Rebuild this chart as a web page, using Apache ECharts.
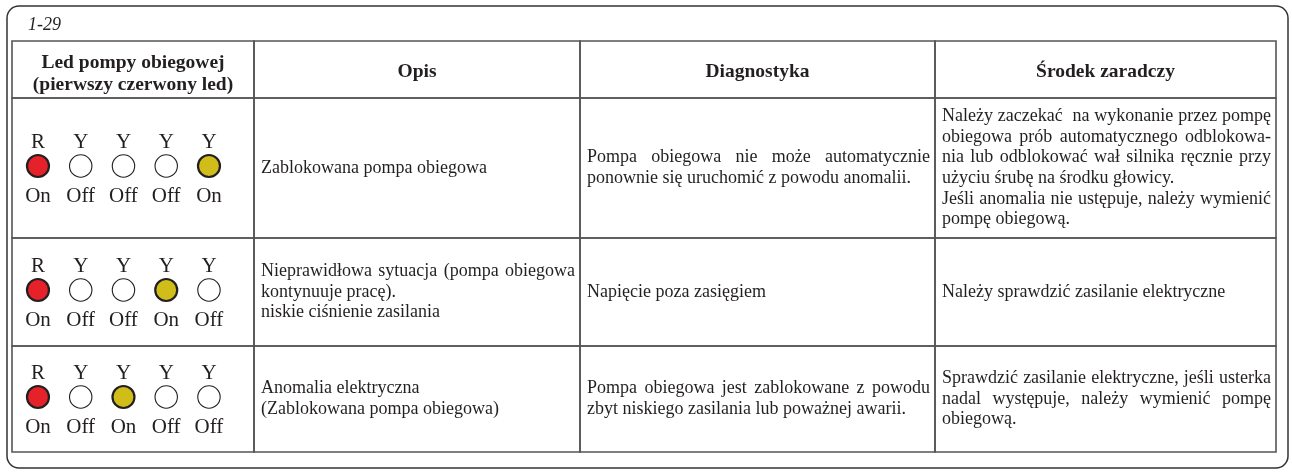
<!DOCTYPE html>
<html><head><meta charset="utf-8">
<script src="https://cdn.jsdelivr.net/npm/echarts@6/dist/echarts.min.js"></script>
<style>html,body{margin:0;padding:0;background:#fff}#c{width:1292px;height:473px}</style>
</head><body><div id="c"></div>
<script>
// ---------- data ----------
const tableTitle = '1-29';
const headers = [['Led pompy obiegowej', '(pierwszy czerwony led)'], ['Opis'], ['Diagnostyka'], ['Środek zaradczy']];
const ledLetters = ['R', 'Y', 'Y', 'Y', 'Y'];
const ledStates = [
  ['On', 'Off', 'Off', 'Off', 'On'],
  ['On', 'Off', 'Off', 'On', 'Off'],
  ['On', 'Off', 'On', 'Off', 'Off']
];
// paragraphs -> lines (all lines except the last of a paragraph are justified)
const opis = [
  [['Zablokowana pompa obiegowa']],
  [['Nieprawidłowa sytuacja (pompa obiegowa', 'kontynuuje pracę).'], ['niskie ciśnienie zasilania']],
  [['Anomalia elektryczna'], ['(Zablokowana pompa obiegowa)']]
];
const diagnostyka = [
  [['Pompa obiegowa nie może automatycznie', 'ponownie się uruchomić z powodu anomalii.']],
  [['Napięcie poza zasięgiem']],
  [['Pompa obiegowa jest zablokowane z powodu', 'zbyt niskiego zasilania lub poważnej awarii.']]
];
const srodek = [
  [['Należy zaczekać  na wykonanie przez pompę', 'obiegowa prób automatycznego odblokowa-', 'nia lub odblokować wał silnika ręcznie przy', 'użyciu śrubę na środku głowicy.'],
   ['Jeśli anomalia nie ustępuje, należy wymienić', 'pompę obiegową.']],
  [['Należy sprawdzić zasilanie elektryczne']],
  [['Sprawdzić zasilanie elektryczne, jeśli usterka', 'nadal występuje, należy wymienić pompę', 'obiegową.']]
];

// ---------- layout & style ----------
const W = 1292, H = 473;
const colEdges = [12, 254, 580, 935, 1276];
const rowEdges = [41, 98, 238, 346, 452];
const FONT = '"Liberation Serif", "DejaVu Serif", serif';
const INK = '#231f20';
const LINE = '#555555';
const BODY_SIZE = 18, BODY_LH = 20.7, HEAD_SIZE = 19.5, LED_SIZE = 21;
const PAD_L = 7, PAD_R = 5;
const ON_COLORS = { R: '#e5222a', Y: '#d1bd19' };

const mctx = document.createElement('canvas').getContext('2d');
function tw(s, size, weight) {
  mctx.font = (weight || 'normal') + ' ' + size + 'px ' + FONT;
  return mctx.measureText(s).width;
}
function textEl(str, x, y, opt) {
  opt = opt || {};
  return {
    type: 'text', x: x, y: y,
    style: {
      text: str, fill: INK, fontFamily: FONT,
      fontSize: opt.size || BODY_SIZE, fontWeight: opt.weight || 'normal',
      align: opt.align || 'left', verticalAlign: 'middle'
    }
  };
}
function cellText(paragraphs, x0, x1, cy) {
  const lines = [];
  paragraphs.forEach(p => p.forEach((ln, k) => lines.push({ t: ln, j: k < p.length - 1 })));
  const out = [];
  const n = lines.length;
  const avail = x1 - x0;
  lines.forEach((ln, k) => {
    const y = cy + (k - (n - 1) / 2) * BODY_LH;
    const words = ln.t.split(' ');
    const widths = words.map(w => tw(w, BODY_SIZE));
    const sum = widths.reduce((a, b) => a + b, 0);
    if (ln.j && words.length > 1 && sum < avail) {
      const gap = (avail - sum) / (words.length - 1);
      let x = x0;
      words.forEach((w, i) => { if (w) out.push(textEl(w, x, y)); x += widths[i] + gap; });
    } else {
      out.push(textEl(ln.t, x0, y));
    }
  });
  return out;
}

const bodyCols = [opis, diagnostyka, srodek];

// table series data: one item per row (0 = header)
const tableData = rowEdges.slice(0, -1).map((y, i) => [i, y]);

function renderRow(params, api) {
  const r = params.dataIndex;
  const yTop = rowEdges[r], yBot = rowEdges[r + 1];
  const children = [];
  for (let c = 0; c < 4; c++) {
    const p0 = api.coord([colEdges[c], yTop]);
    const p1 = api.coord([colEdges[c + 1], yBot]);
    children.push({
      type: 'rect',
      shape: { x: p0[0], y: p0[1], width: p1[0] - p0[0], height: p1[1] - p0[1] },
      style: { fill: 'none', stroke: LINE, lineWidth: 1.6 }
    });
  }
  const cyPix = api.coord([0, (yTop + yBot) / 2])[1];
  if (r === 0) {
    headers.forEach((h, c) => {
      const cx = (api.coord([colEdges[c], 0])[0] + api.coord([colEdges[c + 1], 0])[0]) / 2;
      h.forEach((ln, k) => {
        const y = cyPix + (k - (h.length - 1) / 2) * 22 + (h.length > 1 ? 4 : 2);
        children.push(textEl(ln, cx, y, { size: HEAD_SIZE, weight: 'bold', align: 'center' }));
      });
    });
  } else {
    bodyCols.forEach((col, ci) => {
      const c = ci + 1;
      const x0 = api.coord([colEdges[c], 0])[0] + PAD_L;
      const x1 = api.coord([colEdges[c + 1], 0])[0] - PAD_R;
      cellText(col[r - 1], x0, x1, cyPix).forEach(e => children.push(e));
    });
  }
  return { type: 'group', children: children };
}

// LED data: [ledIndex, y, row, on]
const ledData = [];
ledStates.forEach((row, r) => {
  const cy = (rowEdges[r + 1] + rowEdges[r + 2]) / 2 - 2;
  row.forEach((s, i) => ledData.push([i, cy, r, s === 'On' ? 1 : 0]));
});
function renderLed(params, api) {
  const i = api.value(0), r = api.value(2), on = api.value(3);
  const p = api.coord([i, api.value(1)]);
  const letter = ledLetters[i];
  return {
    type: 'group', children: [
      textEl(letter, p[0], p[1] - 24, { size: LED_SIZE, align: 'center' }),
      {
        type: 'circle', shape: { cx: p[0], cy: p[1], r: on ? 11 : 11.2 },
        style: { fill: on ? ON_COLORS[letter] : '#ffffff', stroke: INK, lineWidth: on ? 2.2 : 1.1 }
      },
      textEl(ledStates[r][i], p[0], p[1] + 30, { size: LED_SIZE, align: 'center' })
    ]
  };
}

const chart = echarts.init(document.getElementById('c'), null, { renderer: 'canvas' });
chart.setOption({
  animation: false,
  backgroundColor: '#ffffff',
  grid: [
    { left: 0, top: 0, width: W, height: H, containLabel: false },
    { left: 16.6, top: 0, width: 213.75, height: H, containLabel: false }
  ],
  xAxis: [
    { type: 'value', gridIndex: 0, min: 0, max: W, show: false },
    { type: 'value', gridIndex: 1, min: -0.5, max: 4.5, show: false }
  ],
  yAxis: [
    { type: 'value', gridIndex: 0, min: 0, max: H, inverse: true, show: false },
    { type: 'value', gridIndex: 1, min: 0, max: H, inverse: true, show: false }
  ],
  graphic: [
    { type: 'rect', shape: { x: 7, y: 6, width: 1281, height: 462, r: 12 },
      style: { fill: 'none', stroke: '#333333', lineWidth: 1.5 }, silent: true },
    { type: 'text', x: 28, y: 25,
      style: { text: tableTitle, fill: INK, fontFamily: FONT, fontSize: 18, fontStyle: 'italic', verticalAlign: 'middle' } }
  ],
  series: [
    { type: 'custom', xAxisIndex: 0, yAxisIndex: 0, data: tableData, renderItem: renderRow, silent: true },
    { type: 'custom', xAxisIndex: 1, yAxisIndex: 1, data: ledData, renderItem: renderLed, silent: true }
  ]
});
</script>
</body></html>
